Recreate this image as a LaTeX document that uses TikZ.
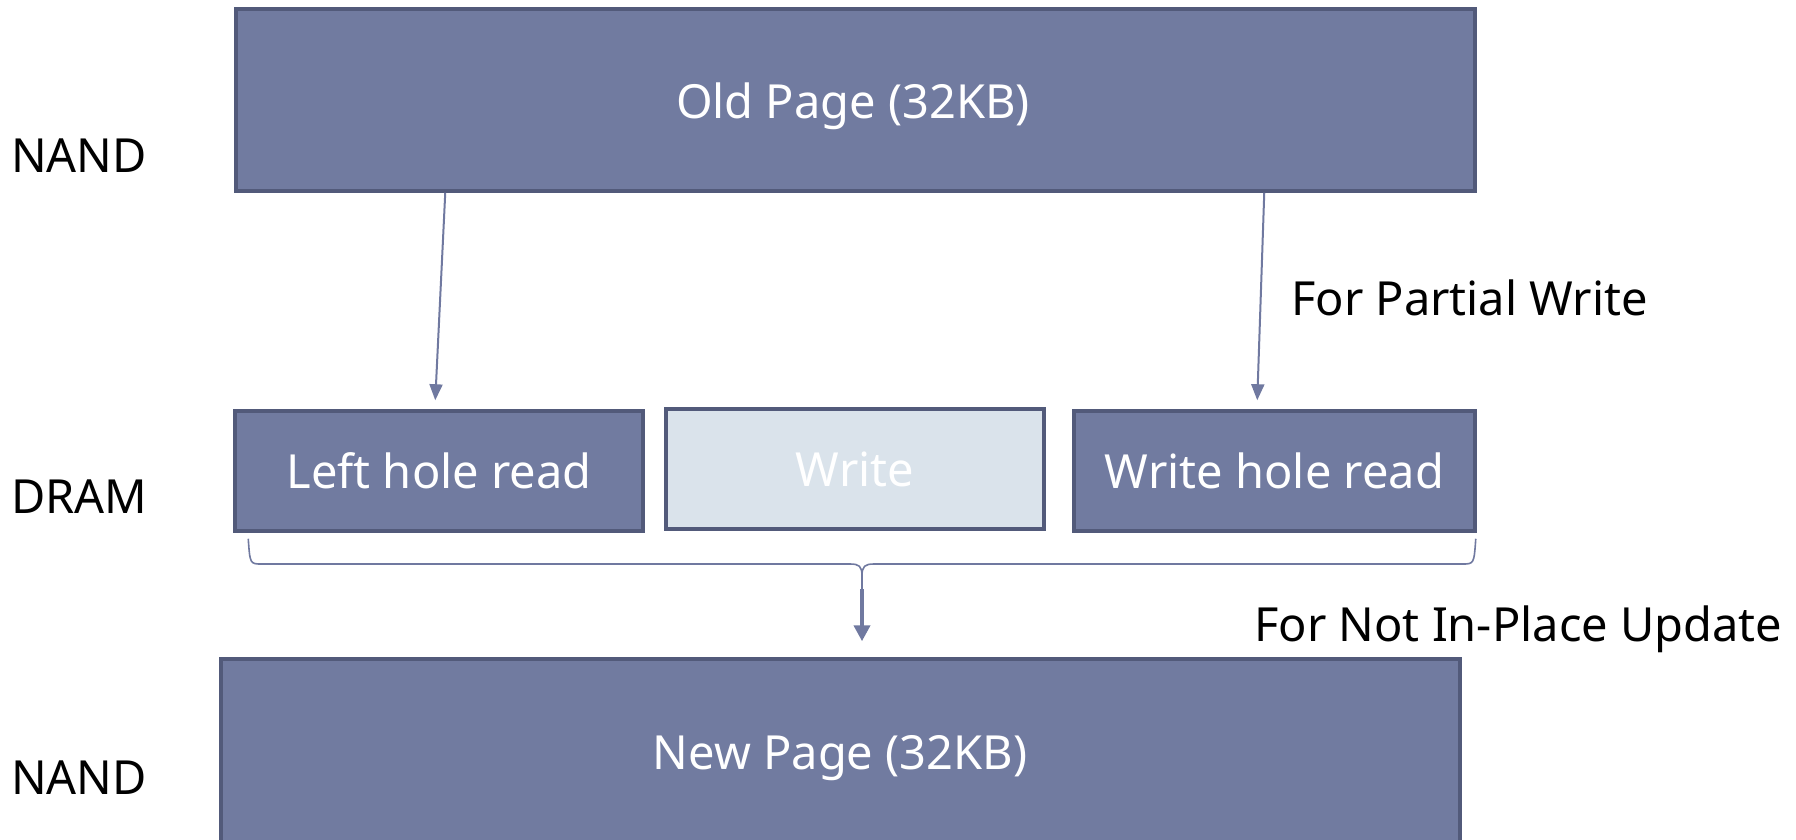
\documentclass[tikz,border=0pt]{standalone}
\usepackage{fontspec}
\setmainfont{Noto Sans}
\usetikzlibrary{arrows.meta}

\definecolor{pagefill}{RGB}{113,123,160}
\definecolor{pageedge}{RGB}{82,90,122}
\definecolor{writefill}{RGB}{218,227,235}
\definecolor{linkcol}{RGB}{112,121,160}

\begin{document}
\begin{tikzpicture}[x=1pt,y=-1pt,
  font=\fontsize{47}{56}\selectfont,
  pagebox/.style={draw=pageedge,line width=3.5pt,fill=pagefill,text=white,
    rectangle,inner sep=0pt,minimum width=#1},
  holebox/.style={pagebox=#1,minimum height=120pt},
  boxtext/.style={text=white,inner sep=0pt},
  layer/.style={anchor=base west,inner sep=0pt,text=black},
  note/.style={anchor=base west,inner sep=0pt,text=black},
  thinlink/.style={draw=linkcol,line width=2pt,
    -{Triangle[length=16pt,width=13pt]}},
  thicklink/.style={draw=linkcol,line width=4.5pt,
    -{Triangle[length=16pt,width=16pt]}},
  bracket/.style={draw=linkcol,line width=1.6pt}]

\useasboundingbox (0,0) rectangle (1796,839);
\clip (0,0) rectangle (1796,839);

% pages and DRAM buffers
\node[pagebox=1239pt,minimum height=182pt] (old) at (855.5,100) {};
\node[boxtext] (oldtxt) at (853,106) {Old Page (32KB)};
\node[holebox=408pt] (left) at (439,471) {Left hole read};
\node[holebox=378pt,fill=writefill] (write) at (855,469) {Write};
\node[holebox=401pt] (right) at (1274.5,471) {Write hole read};
\node[pagebox=1239pt,minimum height=190pt] (new) at (840.5,754) {};
\node[boxtext] (newtxt) at (840,758) {New Page (32KB)};

% layer names
\node[layer] (nand1) at (11,172) {NAND};
\node[layer] (dram) at (11,513) {DRAM};
\node[layer] (nand2) at (11,794) {NAND};

% annotations
\node[note] (partial) at (1291,315) {For Partial Write};
\node[note] (notinplace) at (1254,641) {For Not In-Place Update};

% reads of the holes from the old page
\draw[thinlink] ([xshift=211pt]old.south west) -- ([xshift=202pt,yshift=9pt]left.north west);
\draw[thinlink] ([xshift=1030pt]old.south west) -- ([xshift=185pt,yshift=9pt]right.north west);

% bracket gathering the three DRAM buffers
\coordinate (bl) at ([xshift=15pt,yshift=-6pt]left.south west);
\coordinate (br) at ([xshift=-1pt,yshift=-6pt]right.south east);
\coordinate (tip) at (862,589);
\draw[bracket] (bl) .. controls (250,564) and (250,564) .. (262,564) -- (850,564)
  .. controls (859,564) and (862,566) .. (862,576) -- (tip);
\draw[bracket] (br) .. controls (1474,564) and (1474,564) .. (1462,564) -- (874,564)
  .. controls (865,564) and (862,566) .. (862,576);

% merged data written to the new page
\draw[thicklink] (tip) -- ([yshift=16pt]new.north -| tip);

\end{tikzpicture}
\end{document}
